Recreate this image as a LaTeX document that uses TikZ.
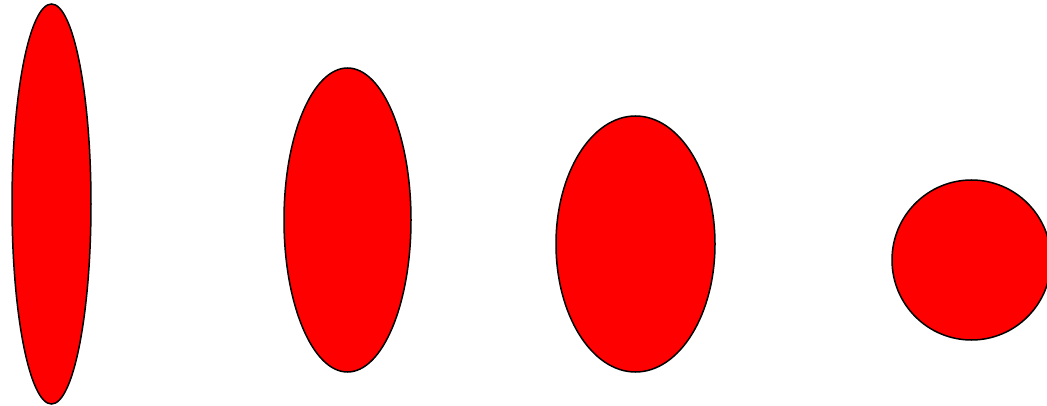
\documentclass[tikz,border=0pt]{standalone}
\begin{document}
\begin{tikzpicture}[x=1pt,y=-1pt,
  blob/.style={draw=black,fill=red,line width=1.5pt}]
\useasboundingbox (0,0) rectangle (1047,406);
\begin{scope}
\clip (0,0) rectangle (1047,406);
\path[blob] (51.5,204) coordinate (e1) ellipse [x radius=39.5, y radius=200];
\path[blob] (347.5,220) coordinate (e2) ellipse [x radius=63.5, y radius=152];
\path[blob] (635.5,244) coordinate (e3) ellipse [x radius=79.5, y radius=128];
\path[blob] (971.5,260) coordinate (e4) ellipse [x radius=79.5, y radius=80];
\end{scope}
\end{tikzpicture}
\end{document}
